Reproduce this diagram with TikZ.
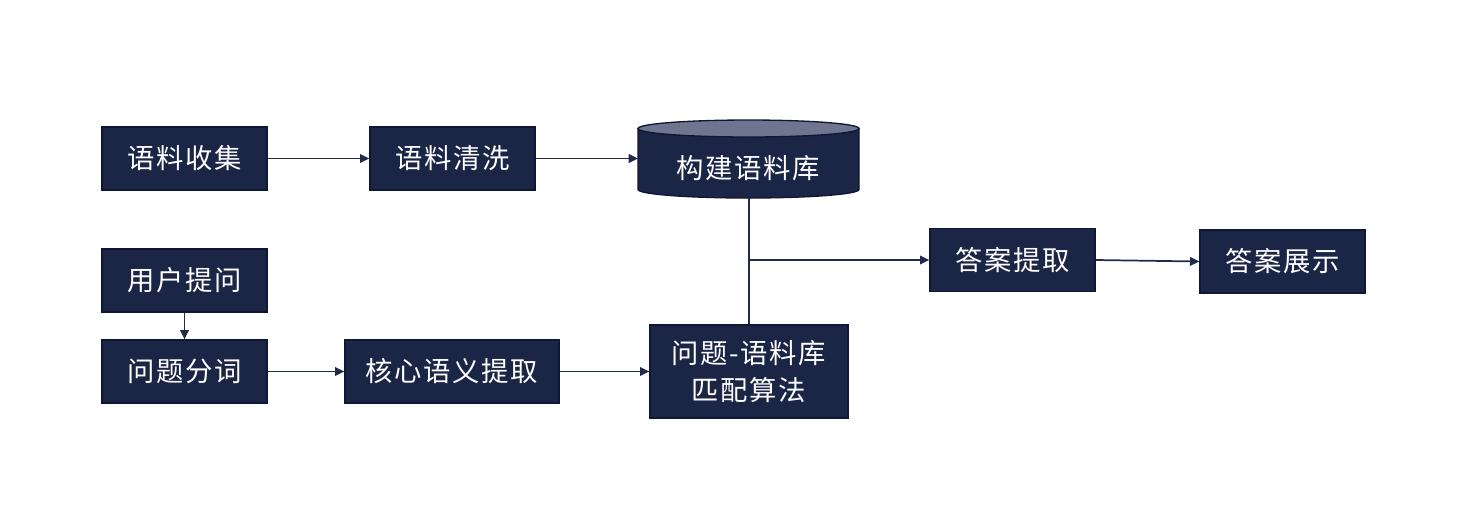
\documentclass[tikz,border=0pt]{standalone}
\usepackage{fontspec}
\newfontfamily\cjk[LetterSpace=6]{Noto Sans CJK SC}
\usetikzlibrary{arrows.meta}
\definecolor{navy}{HTML}{1B2647}
\definecolor{navyedge}{HTML}{0E1733}
\definecolor{linec}{HTML}{1F2A4D}
\definecolor{topgray}{HTML}{6E768F}
\tikzset{
  lbl/.style={text=white, font=\cjk\fontsize{20.5pt}{28pt}\selectfont},
  box/.style={lbl, rectangle, fill=navy, draw=navyedge, line width=1pt,
    inner sep=0pt, minimum width=123.75pt, minimum height=47.25pt, align=center},
  conn/.style={draw=linec, line width=1.3pt, -{Triangle[length=7pt,width=6.5pt]}},
  plain/.style={draw=linec, line width=1.3pt}
}
\begin{document}
\begin{tikzpicture}[x=0.75pt,y=-0.75pt]
\useasboundingbox (0,0) rectangle (1470,512);
% cylinder
\filldraw[fill=navy, draw=navyedge, line width=1pt]
  (859,128.5) -- (859,189.5) arc[start angle=0,end angle=180,x radius=110.5,y radius=8.5]
  -- (638,128.5) -- cycle;
\filldraw[fill=topgray, draw=navyedge, line width=1pt] (748.5,128.5) ellipse[x radius=110.5, y radius=8.5];
\node[lbl] (db) at (748.5,168) {构建语料库};
\coordinate (dbw) at (638,158.5);
\coordinate (dbs) at (749,198);

\node[box] (a1) at (184.5,158.5) {语料收集};
\node[box] (a2) at (452.5,158.5) {语料清洗};
\node[box] (b1) at (184.5,280.5) {用户提问};
\node[box] (b2) at (184.5,371.5) {问题分词};
\node[box, minimum width=160.5pt] (b3) at (452,371.5) {核心语义提取};
\node[box, minimum width=148.5pt, minimum height=69.75pt] (m) at (749,371.5) {问题-语料库\\匹配算法};
\node[box] (c1) at (1012.5,260) {答案提取};
\node[box] (c2) at (1282.5,261.5) {答案展示};

\draw[conn] (a1) -- (a2);
\draw[conn] (a2.east) -- (dbw);
\draw[conn] (b1) -- (b2);
\draw[conn] (b2) -- (b3);
\draw[conn] (b3) -- (m);
\draw[plain] (dbs) -- (m.north);
\coordinate (j) at (749,260);
\draw[conn] (j) -- (c1.west);
\draw[conn] (c1.east) -- (c2.west);
\end{tikzpicture}
\end{document}
